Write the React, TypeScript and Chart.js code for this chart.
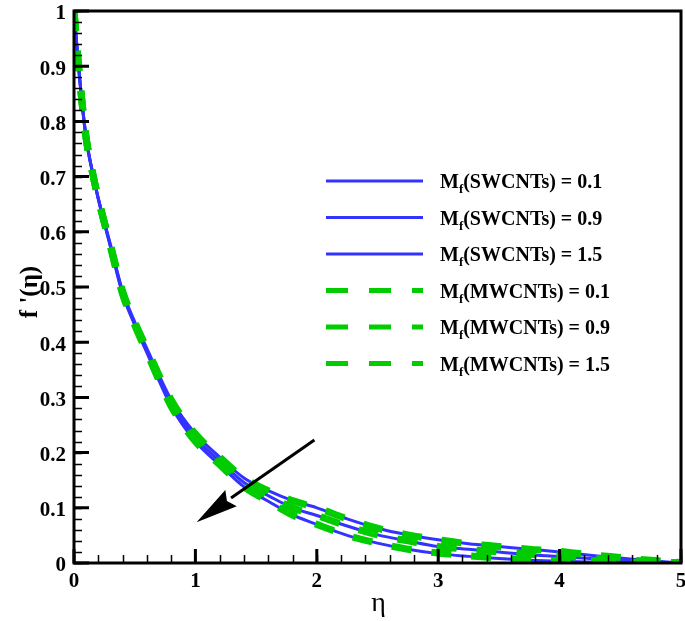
import React, { useEffect, useRef } from "react";
import { Chart, registerables } from "chart.js";

Chart.register(...registerables);

// ---- data ----
const etaValues = [0, 0.05, 0.1, 0.15, 0.2, 0.3, 0.4, 0.5, 0.6, 0.8, 1.0, 1.2, 1.4, 1.6, 1.8, 2.0, 2.25, 2.5, 2.75, 3.0, 3.25, 3.5, 3.75, 4.0, 4.25, 4.5, 4.75, 5.0];

const swcnt01 = [1.0, 0.87, 0.77, 0.71, 0.66, 0.577, 0.493, 0.437, 0.389, 0.296, 0.234, 0.192, 0.154, 0.131, 0.113, 0.1, 0.08, 0.063, 0.051, 0.042, 0.035, 0.03, 0.025, 0.02, 0.014, 0.009, 0.004, 0];
const swcnt09 = [1.0, 0.87, 0.77, 0.71, 0.66, 0.575, 0.49, 0.434, 0.385, 0.29, 0.227, 0.185, 0.146, 0.122, 0.1, 0.086, 0.067, 0.051, 0.04, 0.03, 0.025, 0.02, 0.015, 0.012, 0.008, 0.005, 0.002, 0];
const swcnt15 = [1.0, 0.87, 0.77, 0.71, 0.66, 0.573, 0.487, 0.431, 0.381, 0.284, 0.22, 0.178, 0.138, 0.112, 0.087, 0.07, 0.05, 0.036, 0.025, 0.017, 0.012, 0.008, 0.005, 0.003, 0.002, 0.001, 0.0005, 0];

const mwcnt01 = [1.0, 0.87, 0.77, 0.71, 0.66, 0.577, 0.493, 0.437, 0.389, 0.296, 0.234, 0.192, 0.154, 0.131, 0.113, 0.1, 0.08, 0.063, 0.051, 0.042, 0.035, 0.03, 0.025, 0.021, 0.015, 0.01, 0.005, 0.001];
const mwcnt09 = [1.0, 0.87, 0.77, 0.71, 0.66, 0.575, 0.49, 0.434, 0.385, 0.29, 0.227, 0.185, 0.146, 0.122, 0.1, 0.086, 0.067, 0.051, 0.04, 0.03, 0.025, 0.02, 0.016, 0.013, 0.009, 0.006, 0.003, 0.001];
const mwcnt15 = [1.0, 0.87, 0.77, 0.71, 0.66, 0.573, 0.487, 0.431, 0.381, 0.284, 0.22, 0.178, 0.138, 0.112, 0.087, 0.07, 0.05, 0.036, 0.025, 0.018, 0.013, 0.009, 0.006, 0.004, 0.003, 0.002, 0.001, 0.001];

const mfValues = ["0.1", "0.9", "1.5"];
const xTicks = [0, 1, 2, 3, 4, 5];
const xTickLabels = ["0", "1", "2", "3", "4", "5"];
const yTicks = [0, 0.1, 0.2, 0.3, 0.4, 0.5, 0.6, 0.7, 0.8, 0.9, 1];
const yTickLabels = ["0", "0.1", "0.2", "0.3", "0.4", "0.5", "0.6", "0.7", "0.8", "0.9", "1"];
const xMinorStep = 0.2;
const yMinorStep = 0.02;

// arrow annotation in data coordinates [eta, f']
const arrowFrom = [1.98, 0.223];
const arrowTo = [1.01, 0.074];

const BLUE = "#3333FF";
const GREEN = "#00CC00";
const FONT = "'Liberation Serif', 'Times New Roman', serif";

const toPts = (ys: number[]) => etaValues.map((x, i) => ({ x, y: ys[i] }));

const decorPlugin = {
  id: "decor",
  afterDatasetsDraw(chart: any) {
    const ctx = chart.ctx as CanvasRenderingContext2D;
    const { left, right, top, bottom } = chart.chartArea;
    const xs = chart.scales.x;
    const ys = chart.scales.y;
    ctx.save();
    ctx.strokeStyle = "#000";
    ctx.fillStyle = "#000";

    // minor ticks
    ctx.lineWidth = 1.5;
    ctx.beginPath();
    for (let v = 0; v <= 1.0001; v += yMinorStep) {
      const p = Math.round(ys.getPixelForValue(v)) + 0.5;
      ctx.moveTo(left, p);
      ctx.lineTo(left + 8, p);
    }
    for (let v = 0; v <= 5.0001; v += xMinorStep) {
      const p = Math.round(xs.getPixelForValue(v)) + 0.5;
      ctx.moveTo(p, bottom);
      ctx.lineTo(p, bottom - 8);
    }
    ctx.stroke();

    // major ticks
    ctx.lineWidth = 3;
    ctx.beginPath();
    yTicks.forEach((v) => {
      const p = ys.getPixelForValue(v);
      ctx.moveTo(left, p);
      ctx.lineTo(left + 15, p);
    });
    xTicks.forEach((v) => {
      const p = xs.getPixelForValue(v);
      ctx.moveTo(p, bottom);
      ctx.lineTo(p, bottom - 14);
    });
    ctx.stroke();

    // frame
    ctx.lineWidth = 3;
    ctx.strokeRect(left, top, right - left, bottom - top);

    // tick labels
    ctx.font = `bold 21px ${FONT}`;
    ctx.textAlign = "right";
    ctx.textBaseline = "middle";
    yTicks.forEach((v, i) => {
      ctx.fillText(yTickLabels[i], left - 8, ys.getPixelForValue(v) + 3);
    });
    ctx.textAlign = "center";
    ctx.textBaseline = "middle";
    xTicks.forEach((v, i) => {
      ctx.fillText(xTickLabels[i], xs.getPixelForValue(v), bottom + 19);
    });

    // axis titles
    ctx.font = `28px ${FONT}`;
    ctx.textAlign = "center";
    ctx.textBaseline = "middle";
    ctx.fillText("η", (left + right) / 2 + 1, 604);
    ctx.save();
    ctx.translate(31, (top + bottom) / 2 + 5);
    ctx.rotate(-Math.PI / 2);
    ctx.font = `bold 25px ${FONT}`;
    ctx.fillText("f '(η)", 0, 0);
    ctx.restore();

    // legend
    const rows = [
      { name: "SWCNTs", v: mfValues[0], color: BLUE, dash: false },
      { name: "SWCNTs", v: mfValues[1], color: BLUE, dash: false },
      { name: "SWCNTs", v: mfValues[2], color: BLUE, dash: false },
      { name: "MWCNTs", v: mfValues[0], color: GREEN, dash: true },
      { name: "MWCNTs", v: mfValues[1], color: GREEN, dash: true },
      { name: "MWCNTs", v: mfValues[2], color: GREEN, dash: true },
    ];
    rows.forEach((r, i) => {
      const y = 181 + i * 36.5;
      ctx.save();
      ctx.strokeStyle = r.color;
      ctx.lineWidth = r.dash ? 5 : 3;
      ctx.setLineDash(r.dash ? [22, 21] : []);
      ctx.beginPath();
      ctx.moveTo(326, y);
      ctx.lineTo(423, y);
      ctx.stroke();
      ctx.restore();
      ctx.textAlign = "left";
      ctx.textBaseline = "alphabetic";
      let x = 440;
      const base = y + 7;
      ctx.font = `bold 20px ${FONT}`;
      ctx.fillText("M", x, base);
      x += ctx.measureText("M").width;
      ctx.font = `bold 13px ${FONT}`;
      ctx.fillText("f", x, base + 5);
      x += ctx.measureText("f").width;
      ctx.font = `bold 20px ${FONT}`;
      ctx.fillText(`(${r.name}) = ${r.v}`, x, base);
    });

    // arrow
    const x0 = xs.getPixelForValue(arrowFrom[0]);
    const y0 = ys.getPixelForValue(arrowFrom[1]);
    const x1 = xs.getPixelForValue(arrowTo[0]);
    const y1 = ys.getPixelForValue(arrowTo[1]);
    const ang = Math.atan2(y1 - y0, x1 - x0);
    const headLen = 42;
    const headHalf = 10;
    const bx = x1 - headLen * Math.cos(ang);
    const by = y1 - headLen * Math.sin(ang);
    ctx.lineWidth = 3;
    ctx.beginPath();
    ctx.moveTo(x0, y0);
    ctx.lineTo(bx, by);
    ctx.stroke();
    ctx.beginPath();
    ctx.moveTo(x1, y1);
    ctx.lineTo(bx + headHalf * Math.sin(ang), by - headHalf * Math.cos(ang));
    ctx.lineTo(bx + 5 * Math.cos(ang), by + 5 * Math.sin(ang));
    ctx.lineTo(bx - headHalf * Math.sin(ang), by + headHalf * Math.cos(ang));
    ctx.closePath();
    ctx.fill();

    ctx.restore();
  },
};

export default function App() {
  const canvasRef = useRef<HTMLCanvasElement | null>(null);

  useEffect(() => {
    document.body.style.margin = "0";
    const canvas = canvasRef.current;
    if (!canvas) return;
    const solid = (label: string, ys: number[]) => ({
      label,
      data: toPts(ys),
      borderColor: BLUE,
      borderWidth: 3,
      pointRadius: 0,
      fill: false,
      cubicInterpolationMode: "monotone" as const,
      order: 2,
    });
    const dashed = (label: string, ys: number[]) => ({
      label,
      data: toPts(ys),
      borderColor: GREEN,
      borderWidth: 7,
      borderDash: [20, 20],
      borderCapStyle: "butt" as const,
      pointRadius: 0,
      fill: false,
      cubicInterpolationMode: "monotone" as const,
      order: 1,
    });
    const chart = new Chart(canvas, {
      type: "line",
      data: {
        datasets: [
          solid("Mf(SWCNTs) = 0.1", swcnt01),
          solid("Mf(SWCNTs) = 0.9", swcnt09),
          solid("Mf(SWCNTs) = 1.5", swcnt15),
          dashed("Mf(MWCNTs) = 0.1", mwcnt01),
          dashed("Mf(MWCNTs) = 0.9", mwcnt09),
          dashed("Mf(MWCNTs) = 1.5", mwcnt15),
        ],
      },
      options: {
        responsive: false,
        animation: false,
        devicePixelRatio: 1,
        layout: { padding: { left: 74, top: 11, right: 4, bottom: 58 } },
        plugins: { legend: { display: false }, tooltip: { enabled: false } },
        scales: {
          x: { type: "linear", min: 0, max: 5, display: false },
          y: { type: "linear", min: 0, max: 1, display: false },
        },
      },
      plugins: [decorPlugin],
    });
    return () => chart.destroy();
  }, []);

  return (
    <div style={{ width: 685, height: 621, background: "#fff" }}>
      <canvas ref={canvasRef} width={685} height={621} style={{ display: "block" }} />
    </div>
  );
}
